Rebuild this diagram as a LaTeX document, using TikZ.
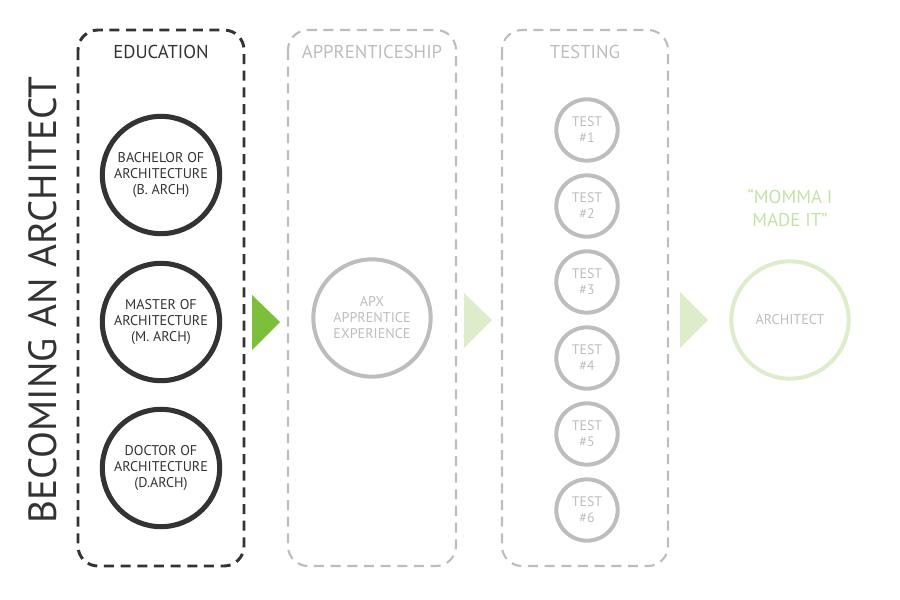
\documentclass[tikz,border=0pt]{standalone}
\usepackage{fontspec}
\setmainfont{PT Sans}
\usepackage{xcolor}
\usetikzlibrary{positioning}
\definecolor{ink}{HTML}{333333}
\definecolor{fog}{HTML}{BDBDBD}
\definecolor{leaf}{HTML}{7DBE3A}
\definecolor{paleleaf}{HTML}{DDEDCB}
\tikzset{
  stage/.style={draw, dashed, dash pattern=on 7.5pt off 5pt, rounded corners=15pt, line width=2.2pt},
  header/.style={font=\fontsize{14}{15}\selectfont},
  degree/.style={circle, draw=ink, text=ink, line width=3.8pt, minimum size=88pt, align=center, inner sep=1pt, font=\fontsize{10.6}{12}\selectfont},
  testring/.style={circle, draw=fog, text=fog, line width=3pt, minimum size=46pt, align=center, inner sep=0pt, font=\fontsize{10.4}{12}\selectfont},
  pointer/.style={fill, draw=none}
}
\begin{document}
\begin{tikzpicture}[x=0.75pt,y=-0.75pt]
        \useasboundingbox (0,0) rectangle (900,600);
        % title
        \node[rotate=90, text=ink, font=\fontsize{29.5}{31}\selectfont] (title) at (43,300) {BECOMING AN ARCHITECT};
        % stages
        \draw [stage, ink] (78,30) rectangle (244,566);
        \draw [stage, fog, line width=1.6pt] (288,30) rectangle (456,566);
        \draw [stage, fog, line width=1.6pt] (502,30) rectangle (668,566);
        \node[header, text=ink] (edu) at (161,52) {EDUCATION};
        \node[header, text=fog] (app) at (372,52) {APPRENTICESHIP};
        \node[header, text=fog] (tst) at (585,52) {TESTING};
        % education
        \node[degree] (bach) at (161,175) {BACHELOR OF\\ARCHITECTURE\\(B. ARCH)};
        \node[degree] (mast) at (161,322) {MASTER OF\\ARCHITECTURE\\(M. ARCH)};
        \node[degree] (doct) at (161,468) {DOCTOR OF\\ARCHITECTURE\\(D.ARCH)};
        % apprenticeship
        \node[degree, draw=fog, text=fog, line width=3pt] (apx) at (372,318) {APX\\APPRENTICE\\EXPERIENCE};
        % tests
        \foreach \i in {1,...,6}
          \node[testring] (test\i) at (587,{54+76*\i}) {TEST\\\#\i};
        % goal
        \node[text=paleleaf!75!leaf, align=center, font=\fontsize{14}{17}\selectfont] (quote) at (790,208) {``MOMMA I\\MADE IT''};
        \node[degree, draw=paleleaf, text=fog, line width=3pt] (arch) at (790,320) {ARCHITECT};
        % pointers
        \fill [pointer, leaf] (252,295) -- (280,322) -- (252,350) -- cycle;
        \fill [pointer, paleleaf] (464,293) -- (492,320) -- (464,348) -- cycle;
        \fill [pointer, paleleaf] (680,292) -- (708,320) -- (680,348) -- cycle;
\end{tikzpicture}
\end{document}
